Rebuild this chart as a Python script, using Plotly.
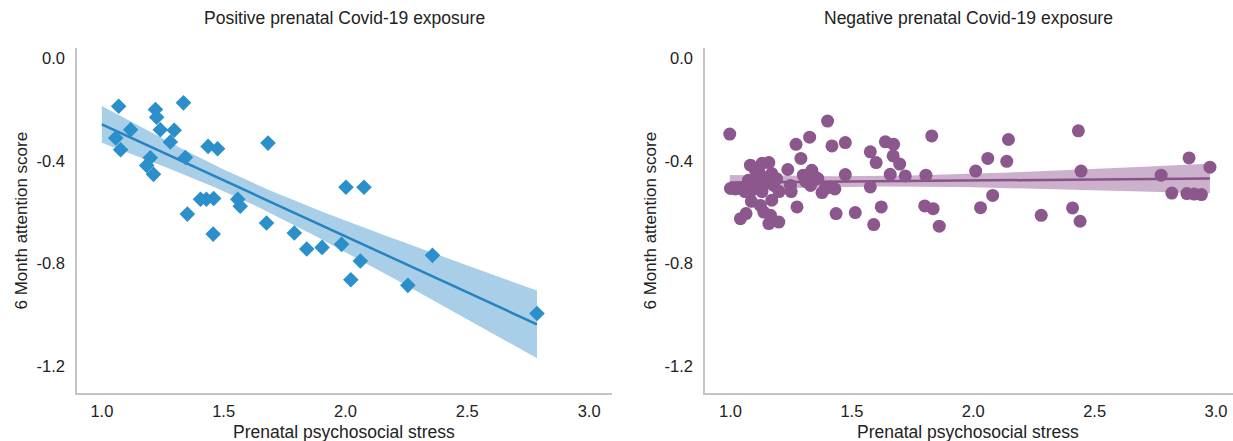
import numpy as np
import plotly.graph_objects as go

# ---------------- data ----------------
pos_stress = [1.069, 1.057, 1.077, 1.118, 1.335, 1.220, 1.225, 1.240, 1.297, 1.281, 1.343, 1.199,
              1.184, 1.212, 1.436, 1.475, 1.682, 1.405, 1.429, 1.459, 1.558, 1.568, 1.351, 1.457,
              1.676, 1.790, 1.841, 1.904, 1.984, 2.002, 2.076, 2.061, 2.022, 2.256, 2.357, 2.786]
pos_attention = [-0.187, -0.311, -0.357, -0.279, -0.174, -0.200, -0.230, -0.279, -0.281, -0.327, -0.387, -0.388,
                 -0.418, -0.453, -0.344, -0.353, -0.331, -0.550, -0.550, -0.547, -0.550, -0.577, -0.608, -0.686,
                 -0.643, -0.682, -0.744, -0.738, -0.726, -0.503, -0.503, -0.791, -0.864, -0.886, -0.769, -0.996]

neg_stress = [0.997, 1.400, 1.326, 1.270, 1.418, 1.473, 1.290, 1.236, 1.082, 1.130, 1.158, 1.170,
              1.103, 1.074, 1.117, 1.144, 1.000, 1.041, 1.089, 1.178, 1.247, 1.250, 1.300, 1.335,
              1.349, 1.330, 1.377, 1.412, 1.473, 1.086, 1.123, 1.137, 1.170, 1.041, 1.064, 1.158,
              1.199, 1.165, 1.274, 1.435, 1.514, 1.590, 1.621, 1.576, 1.600, 1.576, 1.638, 1.672,
              1.670, 1.697, 1.658, 1.720, 1.805, 1.829, 1.800, 1.835, 1.860, 2.010, 2.060, 2.145,
              2.138, 2.080, 2.030, 2.280, 2.433, 2.444, 2.409, 2.440, 2.774, 2.889, 2.975, 2.818,
              2.880, 2.910, 2.940,
              1.120, 1.150, 1.100, 1.060, 1.130, 1.190, 1.360, 1.310, 1.390, 1.430, 1.200, 1.020]
neg_attention = [-0.296, -0.245, -0.308, -0.336, -0.342, -0.329, -0.391, -0.434, -0.417, -0.410, -0.407, -0.450,
                 -0.437, -0.476, -0.476, -0.489, -0.508, -0.508, -0.515, -0.496, -0.496, -0.520, -0.456, -0.437,
                 -0.463, -0.496, -0.524, -0.502, -0.454, -0.558, -0.574, -0.600, -0.554, -0.626, -0.606, -0.645,
                 -0.639, -0.613, -0.580, -0.606, -0.602, -0.649, -0.580, -0.365, -0.407, -0.502, -0.326, -0.336,
                 -0.381, -0.413, -0.453, -0.459, -0.456, -0.303, -0.576, -0.587, -0.655, -0.440, -0.391, -0.317,
                 -0.402, -0.535, -0.583, -0.613, -0.283, -0.440, -0.584, -0.636, -0.456, -0.389, -0.425, -0.526,
                 -0.528, -0.530, -0.532,
                 -0.450, -0.470, -0.490, -0.520, -0.520, -0.470, -0.470, -0.480, -0.510, -0.510, -0.520, -0.510]

x_ticks = [1.0, 1.5, 2.0, 2.5, 3.0]
x_tick_labels = ["1.0", "1.5", "2.0", "2.5", "3.0"]
y_ticks = [0.0, -0.4, -0.8, -1.2]
y_tick_labels = ["0.0", "-0.4", "-0.8", "-1.2"]

titles = ["Positive prenatal Covid-19 exposure", "Negative prenatal Covid-19 exposure"]
x_title = "Prenatal psychosocial stress"
y_title = "6 Month attention score"

# lower bound of the stress scale (regression is drawn from here to the largest observation)
stress_scale_min = 1.0

# ---------------- styling ----------------
BLUE = "#2B8FCA"
BLUE_LINE = "#2683C1"
BLUE_BAND = "#A8CEE8"
PURPLE = "#8C578D"
PURPLE_LINE = "#8A5289"
PURPLE_BAND = "#CBB1CC"
AXIS = "#C4C4C4"
FONT = "Liberation Sans, Arial, sans-serif"
TXT = "#222222"


def t_quantile(df, z=1.959964):
    return (z + (z**3 + z) / (4 * df) + (5 * z**5 + 16 * z**3 + 3 * z) / (96 * df**2))


def fit_band(x, y, xmin):
    x = np.asarray(x, float)
    y = np.asarray(y, float)
    n = len(x)
    b, a = np.polyfit(x, y, 1)
    grid = np.linspace(min(xmin, x.min()), x.max(), 120)
    pred = a + b * grid
    resid = y - (a + b * x)
    s = np.sqrt(np.sum(resid**2) / (n - 2))
    sxx = np.sum((x - x.mean())**2)
    se = s * np.sqrt(1.0 / n + (grid - x.mean())**2 / sxx)
    t = t_quantile(n - 2)
    return grid, pred, pred - t * se, pred + t * se


fig = go.Figure()

panels = [
    (pos_stress, pos_attention, "x", "y", BLUE, BLUE_LINE, BLUE_BAND, "diamond", 12),
    (neg_stress, neg_attention, "x2", "y2", PURPLE, PURPLE_LINE, PURPLE_BAND, "circle", 13),
]

for xs, ys, xa, ya, mc, lc, bc, sym, size in panels:
    g, p, lo, hi = fit_band(xs, ys, stress_scale_min)
    fig.add_trace(go.Scatter(x=np.concatenate([g, g[::-1]]), y=np.concatenate([hi, lo[::-1]]),
                             fill="toself", fillcolor=bc, line=dict(width=0), mode="lines",
                             hoverinfo="skip", showlegend=False, xaxis=xa, yaxis=ya))
    fig.add_trace(go.Scatter(x=g, y=p, mode="lines", line=dict(color=lc, width=2.5),
                             showlegend=False, xaxis=xa, yaxis=ya))
    fig.add_trace(go.Scatter(x=xs, y=ys, mode="markers",
                             marker=dict(symbol=sym, size=size, color=mc, line=dict(width=0)),
                             showlegend=False, xaxis=xa, yaxis=ya))

W, H = 1233, 441
top_px, bot_px = 48, 393
ydom = [1 - bot_px / H, 1 - top_px / H]
left_dom = [77 / W, 612 / W]
right_dom = [705 / W, 1.0]

axis_common = dict(showgrid=False, zeroline=False, showline=True, linecolor=AXIS, linewidth=1.5,
                   ticks="", tickfont=dict(family=FONT, size=16.5, color=TXT))

fig.update_layout(
    width=W, height=H,
    margin=dict(l=0, r=0, t=0, b=0),
    paper_bgcolor="white", plot_bgcolor="white",
    showlegend=False,
    xaxis=dict(domain=left_dom, range=[0.898, 3.094], tickvals=x_ticks, ticktext=x_tick_labels,
               anchor="y", ticklabelstandoff=2, **axis_common),
    yaxis=dict(domain=ydom, range=[-1.306, 0.040], tickvals=y_ticks, ticktext=y_tick_labels,
               anchor="x", ticklabelstandoff=7, **axis_common),
    xaxis2=dict(domain=right_dom, range=[0.895, 3.07], tickvals=x_ticks, ticktext=x_tick_labels,
                anchor="y2", ticklabelstandoff=2, **axis_common),
    yaxis2=dict(domain=ydom, range=[-1.306, 0.040], tickvals=y_ticks, ticktext=y_tick_labels,
                anchor="x2", ticklabelstandoff=7, **axis_common),
)

annos = []
centers = [344 / W, 968 / W]
for cx, title in zip(centers, titles):
    annos.append(dict(text=title, x=cx, y=1 - 18 / H, xref="paper", yref="paper",
                      showarrow=False, font=dict(family=FONT, size=17.5, color=TXT),
                      xanchor="center", yanchor="middle"))
    annos.append(dict(text=x_title, x=cx, y=1 - 432 / H, xref="paper", yref="paper",
                      showarrow=False, font=dict(family=FONT, size=17.5, color=TXT),
                      xanchor="center", yanchor="middle"))
for xpx in [21, 650]:
    annos.append(dict(text=y_title, x=xpx / W, y=(ydom[0] + ydom[1]) / 2, xref="paper", yref="paper",
                      showarrow=False, textangle=-90, font=dict(family=FONT, size=17, color=TXT),
                      xanchor="center", yanchor="middle"))
fig.update_layout(annotations=annos)

fig.write_html("out.html", config={"displayModeBar": False},
               post_script="document.body.style.margin='0';document.body.style.overflow='hidden';")
